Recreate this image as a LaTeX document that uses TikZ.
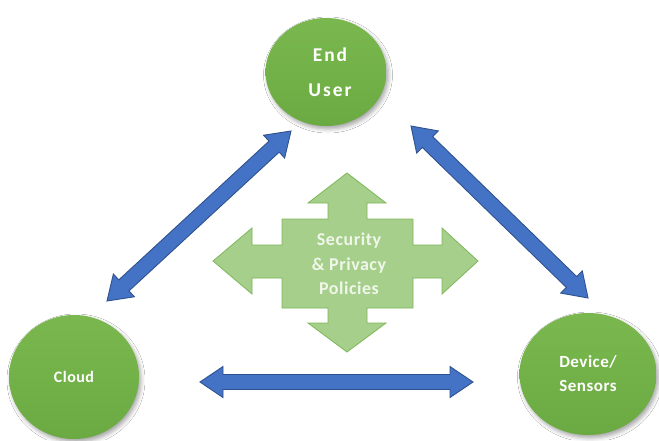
\documentclass[tikz,border=0pt]{standalone}
\usepackage{fontspec}
\setmainfont{Carlito}
\newfontfamily\spacedfont[LetterSpace=10]{Carlito}
\newfontfamily\labelfont[LetterSpace=3]{Carlito}
\usetikzlibrary{calc,shapes.geometric,shadows.blur}

\definecolor{nodegreen}{HTML}{6BAA42}
\definecolor{nodegreenlight}{HTML}{7AB84F}
\definecolor{crossfill}{HTML}{A6CF8B}
\definecolor{crossedge}{HTML}{7DB75A}
\definecolor{crosstext}{HTML}{F0F7EA}
\definecolor{arrowblue}{HTML}{4472C4}
\definecolor{arrowedge}{HTML}{2F528F}

% block arrow dimensions
\newcommand\arrHeadLen{23pt}
\newcommand\arrHeadHalf{15.5pt}
\newcommand\arrShaftHalf{7.5pt}

\begin{document}
\begin{tikzpicture}[x=1pt,y=-1pt,
  entity/.style={ellipse, draw=none, top color=nodegreenlight,
    bottom color=nodegreen, text=white, align=center, inner sep=0pt,
    blur shadow={shadow xshift=2pt, shadow yshift=-3pt,
      shadow blur radius=4pt, shadow opacity=35}},
  blockarrow/.style={draw=arrowedge, fill=arrowblue, line width=0.9pt,
    line join=miter,
    to path={
      -- ($(\tikztostart)!\arrHeadLen!(\tikztotarget)!\arrHeadHalf!90:(\tikztotarget)$)
      -- ($(\tikztostart)!\arrHeadLen!(\tikztotarget)!\arrShaftHalf!90:(\tikztotarget)$)
      -- ($(\tikztotarget)!\arrHeadLen!(\tikztostart)!\arrShaftHalf!-90:(\tikztostart)$)
      -- ($(\tikztotarget)!\arrHeadLen!(\tikztostart)!\arrHeadHalf!-90:(\tikztostart)$)
      -- (\tikztotarget)
      -- ($(\tikztotarget)!\arrHeadLen!(\tikztostart)!\arrHeadHalf!90:(\tikztostart)$)
      -- ($(\tikztotarget)!\arrHeadLen!(\tikztostart)!\arrShaftHalf!90:(\tikztostart)$)
      -- ($(\tikztostart)!\arrHeadLen!(\tikztotarget)!\arrShaftHalf!-90:(\tikztotarget)$)
      -- ($(\tikztostart)!\arrHeadLen!(\tikztotarget)!\arrHeadHalf!-90:(\tikztotarget)$)
      -- cycle}},
  crossshape/.style={draw=crossedge, fill=crossfill, line width=0.8pt, line join=miter}]

\useasboundingbox (0,0) rectangle (659,440);
\fill[white] (0,0) rectangle (659,440);

% the three parties
\node[entity, minimum width=121pt, minimum height=108pt,
  font={\spacedfont\bfseries\fontsize{19.5}{35}\selectfont}]
  (user) at (326,72) {\hspace*{8pt}End\\\hspace*{8pt}User};
\node[entity, minimum width=130pt, minimum height=124pt,
  font={\labelfont\bfseries\fontsize{16}{20}\selectfont}]
  (cloud) at (74,377) {Cloud};
\node[entity, minimum width=137pt, minimum height=122pt,
  font={\labelfont\bfseries\fontsize{17}{24}\selectfont}]
  (device) at (588,374) {Device/\\Sensors};

% policy block: four-way arrow
\draw[crossshape]
  (347,173) -- (386,203) -- (367,203) -- (367,219) -- (413,219) -- (413,245)
  -- (442,245) -- (442,228) -- (478,261) -- (442,294) -- (442,278)
  -- (413,278) -- (413,308) -- (367,308) -- (367,323) -- (386,323)
  -- (347,352) -- (308,323) -- (328,323) -- (328,308) -- (282,308)
  -- (282,278) -- (252,278) -- (252,294) -- (213,261) -- (252,228)
  -- (252,245) -- (282,245) -- (282,219) -- (328,219) -- (328,203)
  -- (308,203) -- cycle;
\node[text=crosstext, align=center, inner sep=0pt,
  font={\labelfont\bfseries\fontsize{18}{24.5}\selectfont}]
  (policy) at (349,264) {Security\\\& Privacy\\Policies};

% arrow ends
\coordinate (uc-a) at (107,301);
\coordinate (uc-b) at (291,131);
\coordinate (ud-a) at (411,126);
\coordinate (ud-b) at (588,298);
\coordinate (cd-a) at (200,382);
\coordinate (cd-b) at (473,382);

% links between the parties
\draw[blockarrow] (uc-a) to (uc-b);
\draw[blockarrow] (ud-a) to (ud-b);
\draw[blockarrow] (cd-a) to (cd-b);
\end{tikzpicture}
\end{document}
